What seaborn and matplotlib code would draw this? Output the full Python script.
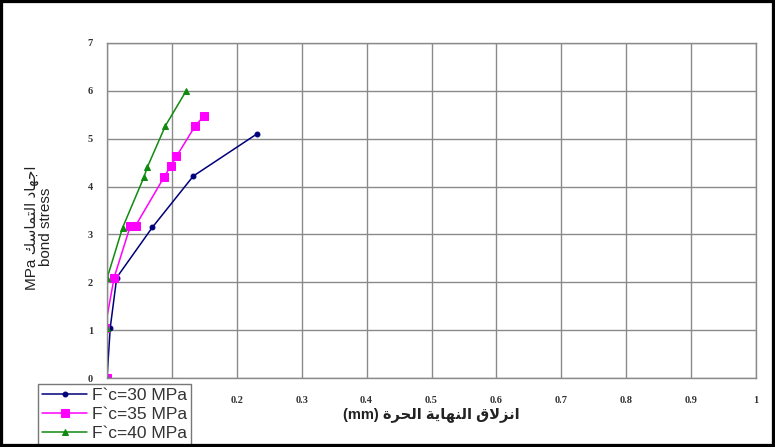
import matplotlib
matplotlib.use("Agg")
import matplotlib.pyplot as plt
import seaborn as sns
import pandas as pd
from matplotlib.patches import Rectangle

# ---------------- data ----------------
slip_30 = [0.0, 0.005, 0.015, 0.070, 0.133, 0.231]
stress_30 = [0.0, 1.05, 2.10, 3.15, 4.22, 5.10]

slip_35 = [0.0, -0.003, 0.011, 0.036, 0.044, 0.088, 0.098, 0.107, 0.136, 0.149]
stress_35 = [0.0, 1.05, 2.10, 3.18, 3.18, 4.20, 4.42, 4.63, 5.27, 5.47]

slip_40 = [0.0, 0.0, 0.0, 0.024, 0.057, 0.062, 0.090, 0.122]
stress_40 = [0.0, 1.05, 2.08, 3.14, 4.20, 4.40, 5.27, 6.00]

series_labels = ["F`c=30 MPa", "F`c=35 MPa", "F`c=40 MPa"]
x_ticks = [0.0, 0.1, 0.2, 0.3, 0.4, 0.5, 0.6, 0.7, 0.8, 0.9, 1.0]
# "0" and "0.1" are hidden behind the legend in the reference
x_tick_labels = ["", "", "0.2", "0.3", "0.4", "0.5", "0.6", "0.7", "0.8", "0.9", "1"]
y_ticks = [0, 1, 2, 3, 4, 5, 6, 7]
y_tick_labels = ["0", "1", "2", "3", "4", "5", "6", "7"]
xlabel_ar = "انزلاق النهاية الحرة"
ylabel_ar = "اجهاد التماسك"

# ---------------- simple Arabic shaping (presentation forms) ----------------
FORMS = {
    'ا': ('\uFE8D', '\uFE8E', None, None),
    'ت': ('\uFE95', '\uFE96', '\uFE97', '\uFE98'),
    'ة': ('\uFE93', '\uFE94', None, None),
    'ج': ('\uFE9D', '\uFE9E', '\uFE9F', '\uFEA0'),
    'ح': ('\uFEA1', '\uFEA2', '\uFEA3', '\uFEA4'),
    'د': ('\uFEA9', '\uFEAA', None, None),
    'ر': ('\uFEAD', '\uFEAE', None, None),
    'ز': ('\uFEAF', '\uFEB0', None, None),
    'س': ('\uFEB1', '\uFEB2', '\uFEB3', '\uFEB4'),
    'ق': ('\uFED5', '\uFED6', '\uFED7', '\uFED8'),
    'ك': ('\uFED9', '\uFEDA', '\uFEDB', '\uFEDC'),
    'ل': ('\uFEDD', '\uFEDE', '\uFEDF', '\uFEE0'),
    'م': ('\uFEE1', '\uFEE2', '\uFEE3', '\uFEE4'),
    'ن': ('\uFEE5', '\uFEE6', '\uFEE7', '\uFEE8'),
    'ه': ('\uFEE9', '\uFEEA', '\uFEEB', '\uFEEC'),
    'ي': ('\uFEF1', '\uFEF2', '\uFEF3', '\uFEF4'),
}


def shape_word(w):
    out = []
    prev_joins = False
    i = 0
    while i < len(w):
        c = w[i]
        if c not in FORMS:
            out.append(c)
            prev_joins = False
            i += 1
            continue
        nxt = w[i + 1] if i + 1 < len(w) else None
        if c == 'ل' and nxt == 'ا':
            out.append('\uFEFC' if prev_joins else '\uFEFB')
            prev_joins = False
            i += 2
            continue
        iso, fin, ini, med = FORMS[c]
        can_left = ini is not None
        next_joins = can_left and nxt is not None and nxt in FORMS
        if prev_joins and next_joins:
            out.append(med)
        elif prev_joins:
            out.append(fin)
        elif next_joins:
            out.append(ini)
        else:
            out.append(iso)
        prev_joins = next_joins
        i += 1
    return "".join(out)


def visual(s):
    shaped = " ".join(shape_word(w) for w in s.split(" "))
    return shaped[::-1]


# ---------------- plot ----------------
sns.set_style("white")
plt.rcParams['font.family'] = ['Liberation Sans', 'DejaVu Sans']

fig = plt.figure(figsize=(7.75, 4.47), dpi=100)
ax = fig.add_axes([107 / 775, 1 - 378 / 447, (756 - 107) / 775, (378 - 43) / 447])

styles = [
    (slip_30, stress_30, "#00007A", "o", 3.5),
    (slip_35, stress_35, "#FF00FF", "s", 5.5),
    (slip_40, stress_40, "#108A10", "^", 4.5),
]
for (xs, ys, col, mk, ms), lab in zip(styles, series_labels):
    df = pd.DataFrame({"slip": xs, "stress": ys})
    sns.lineplot(data=df, x="slip", y="stress", ax=ax, sort=False, estimator=None,
                 color=col, marker=mk, markersize=ms, markeredgecolor=col,
                 linewidth=1.1, label=lab, legend=False)

ax.set_xlim(0, 1)
ax.set_ylim(0, 7)
ax.set_xticks(x_ticks)
ax.set_xticklabels(x_tick_labels)
ax.set_yticks(y_ticks)
ax.set_yticklabels(y_tick_labels)
ax.grid(True, color="#8a8a8a", linewidth=1.0)
for sp in ax.spines.values():
    sp.set_color("#8a8a8a")
    sp.set_linewidth(1.0)
ax.tick_params(axis="both", direction="out", length=4, width=0.8, color="#8a8a8a",
               labelsize=7.5)
ax.tick_params(axis="x", pad=9)
ax.tick_params(axis="y", pad=6)
for t in ax.get_xticklabels() + ax.get_yticklabels():
    t.set_fontfamily("Liberation Serif")
    t.set_fontweight("bold")
    t.set_color("#333333")

ax.set_xlabel("(mm) " + visual(xlabel_ar), fontsize=10.5, fontweight="bold",
              family=['Liberation Sans', 'DejaVu Sans'], color="#222222")
ax.xaxis.set_label_coords(0.5, -0.088)
ax.set_ylabel("MPa " + visual(ylabel_ar) + "\nbond stress", fontsize=11,
              family=['Liberation Sans', 'DejaVu Sans'], color="#222222",
              linespacing=1.0)
ax.yaxis.set_label_coords(-0.083, 0.45)

handles, labels = ax.get_legend_handles_labels()
leg = fig.legend(handles, labels, loc="lower left",
                 bbox_to_anchor=(38 / 775, 2 / 447), bbox_transform=fig.transFigure,
                 borderaxespad=0, frameon=True, fancybox=False, framealpha=1,
                 edgecolor="#777777", fontsize=12.5, handlelength=2.6,
                 handletextpad=0.25, borderpad=0.25, labelspacing=0.2)
leg.get_frame().set_linewidth(1.0)
for t in leg.get_texts():
    t.set_color("#333333")

fig.patches.append(Rectangle((0, 0), 1, 1, transform=fig.transFigure, fill=False,
                             edgecolor="black", linewidth=4.5, zorder=10))

fig.savefig("out.png", dpi=100)
